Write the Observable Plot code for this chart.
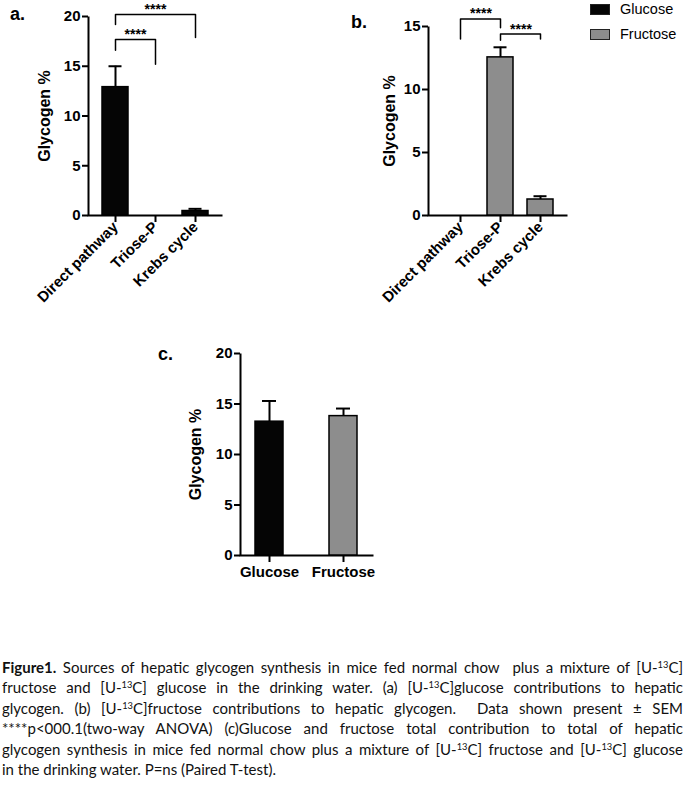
<!DOCTYPE html>
<html>
<head>
<meta charset="utf-8">
<script src="https://cdn.jsdelivr.net/npm/d3@7"></script>
<script src="https://cdn.jsdelivr.net/npm/@observablehq/plot@0.6"></script>
<style>
  body { margin: 0; background: #fff; }
  #page { position: relative; width: 685px; height: 785px; overflow: hidden; background: #fff;
          font-family: "Liberation Sans", Arial, sans-serif; color: #000; }
  .panel { position: absolute; }
  .panel svg { overflow: visible; }
  .plabel { position: absolute; font-weight: bold; font-size: 18px; line-height: 1; }
  .sw { position: absolute; width: 20px; height: 11px; box-sizing: border-box; border: 1px solid #222; }
  .lg { position: absolute; font-size: 14.5px; line-height: 1; }
  #caption { position: absolute; left: 2px; top: 657px; width: 681px;
             font-family: Lato, "Open Sans", sans-serif;
             font-size: 15px; line-height: 20.4px; color: #111; }
  #caption .ln { text-align: justify; text-align-last: justify; white-space: nowrap; height: 20.4px; }
  #caption .ln.last { text-align-last: left; }
  #caption sup { font-size: 0.62em; line-height: 0; vertical-align: 0.5em; }
</style>
</head>
<body>
<div id="page">
  <div class="plabel" style="left:10px;top:5px;">a.</div>
  <div class="plabel" style="left:351px;top:13px;">b.</div>
  <div class="plabel" style="left:158px;top:345px;">c.</div>
  <div id="pa" class="panel" style="left:0px;top:0px;"></div>
  <div id="pb" class="panel" style="left:330px;top:0px;"></div>
  <div id="pc" class="panel" style="left:170px;top:310px;"></div>
  <div id="legend"></div>
  <div id="caption">
    <div class="ln"><b>Figure1.</b> Sources of hepatic glycogen synthesis in mice fed normal chow&nbsp; plus a mixture of [U-<sup>13</sup>C]</div>
    <div class="ln">fructose and [U-<sup>13</sup>C] glucose in the drinking water. (a) [U-<sup>13</sup>C]glucose contributions to hepatic</div>
    <div class="ln">glycogen. (b) [U-<sup>13</sup>C]fructose contributions to hepatic glycogen.&nbsp; Data shown present ± SEM</div>
    <div class="ln">****p&lt;000.1(two-way ANOVA) (c)Glucose and fructose total contribution to total of hepatic</div>
    <div class="ln">glycogen synthesis in mice fed normal chow plus a mixture of [U-<sup>13</sup>C] fructose and [U-<sup>13</sup>C] glucose</div>
    <div class="ln last">in the drinking water. P=ns (Paired T-test).</div>
  </div>
</div>
<script>
// ---------- data ----------
const pathways = ["Direct pathway", "Triose-P", "Krebs cycle"];
const glucoseMean = [12.9, 0, 0.45];
const glucoseSem = [2.1, 0, 0.22];
const fructoseMean = [0, 12.55, 1.27];
const fructoseSem = [0, 0.8, 0.26];

const sugars = ["Glucose", "Fructose"];
const totalMean = [13.25, 13.8];
const totalSem = [2.05, 0.75];

const ticksA = [0, 5, 10, 15, 20];
const ticksB = [0, 5, 10, 15];
const ticksC = [0, 5, 10, 15, 20];

// significance brackets (values in Glycogen % units)
const bracketFromA = ["Direct pathway", "Direct pathway"];
const bracketToA = ["Triose-P", "Krebs cycle"];
const bracketYA = [17.7, 20.2];
const bracketFromEndA = [16.6, 19.2];
const bracketToEndA = [15.2, 17.9];
const bracketTextA = ["****", "****"];

const bracketFromB = ["Direct pathway", "Triose-P"];
const bracketToB = ["Triose-P", "Krebs cycle"];
const bracketYB = [15.6, 14.4];
const bracketFromEndB = [14.0, 13.9];
const bracketToEndB = [14.9, 14.0];
const bracketTextB = ["****", "****"];

const legendLabels = ["Glucose", "Fructose"];
const colors = {Glucose: "#050505", Fructose: "#8d8d8d"};

// ---------- drawing ----------
function panel(o) {
  const rows = o.cats.map((c, i) => ({cat: c, mean: o.means[i], sem: o.sems[i], fill: o.fills[i]}));
  const W = o.width - o.mL - o.mR, H = o.height - o.mT - o.mB;
  const xs = Plot.scale({x: {type: "band", domain: o.cats, range: [o.mL, o.width - o.mR],
    paddingInner: o.pInner, paddingOuter: o.pOuter, align: o.align}});
  const marks = [
    Plot.frame({stroke: "#000", strokeWidth: 2, strokeDasharray: `0 ${W + H} ${W + H}`}),
    Plot.barY(rows, {x: "cat", y: "mean", fill: "fill", stroke: "#000", strokeWidth: 1.5}),
    Plot.ruleX(rows.filter(d => d.sem > 0), {x: "cat", y1: "mean", y2: d => d.mean + d.sem, stroke: "#000", strokeWidth: 2}),
    Plot.tickY(rows.filter(d => d.sem > 0), {x: "cat", y: d => d.mean + d.sem, stroke: "#000", strokeWidth: 2,
      insetLeft: o.capInset, insetRight: o.capInset}),
    Plot.axisY({ticks: o.ticks, tickSize: 6, tickPadding: 2, strokeWidth: 2, label: null, tickFormat: d => d}),
    Plot.axisX({tickSize: 7, tickPadding: o.tickRotate ? 2 : 4, tickRotate: o.tickRotate, strokeWidth: 2, label: null}),
    Plot.text(["Glycogen %"], {text: d => d, frameAnchor: "left", textAnchor: "middle", lineAnchor: "middle",
      rotate: -90, dx: o.labelDx, fontSize: 16, fontWeight: "bold"})
  ];
  if (o.bFrom) {
    const pts = [];
    o.bFrom.forEach((f, i) => {
      pts.push({id: i, x: f, y: o.bFromEnd[i]}, {id: i, x: f, y: o.bY[i]},
               {id: i, x: o.bTo[i], y: o.bY[i]}, {id: i, x: o.bTo[i], y: o.bToEnd[i]});
    });
    marks.push(Plot.line(pts, {x: "x", y: "y", z: "id", stroke: "#000", strokeWidth: 1.5, curve: "linear"}));
    o.bFrom.forEach((f, i) => {
      const dx = (xs.apply(o.bTo[i]) - xs.apply(f)) / 2;
      marks.push(Plot.text([o.bText[i]], {x: () => f, y: () => o.bY[i], text: d => d, dx, dy: -5,
        fontSize: 14, fontWeight: "bold"}));
    });
  }
  return Plot.plot({
    width: o.width, height: o.height,
    marginLeft: o.mL, marginRight: o.mR, marginTop: o.mT, marginBottom: o.mB,
    style: {fontFamily: '"Liberation Sans", Arial, sans-serif', fontSize: "15px", fontWeight: "bold", color: "#000", background: "transparent", overflow: "visible"},
    x: {type: "band", domain: o.cats, paddingInner: o.pInner, paddingOuter: o.pOuter, align: o.align, label: null},
    y: {domain: [0, o.yMax], label: null},
    color: {type: "identity"},
    marks
  });
}

document.getElementById("pa").appendChild(panel({
  cats: pathways, means: glucoseMean, sems: glucoseSem, fills: pathways.map(() => colors.Glucose),
  yMax: 20, ticks: ticksA, width: 240, height: 300, mL: 88, mR: 18, mT: 16, mB: 85,
  pInner: 0.35, pOuter: 0.35, align: 0.5, capInset: 6.5, tickRotate: -45, labelDx: -44,
  bFrom: bracketFromA, bTo: bracketToA, bY: bracketYA, bFromEnd: bracketFromEndA, bToEnd: bracketToEndA, bText: bracketTextA
}));

document.getElementById("pb").appendChild(panel({
  cats: pathways, means: fructoseMean, sems: fructoseSem, fills: pathways.map(() => colors.Fructose),
  yMax: 15, ticks: ticksB, width: 240, height: 310, mL: 98, mR: 3, mT: 26, mB: 95,
  pInner: 0.34, pOuter: 0.37, align: 0.59, capInset: 6.5, tickRotate: -45, labelDx: -39,
  bFrom: bracketFromB, bTo: bracketToB, bY: bracketYB, bFromEnd: bracketFromEndB, bToEnd: bracketToEndB, bText: bracketTextB
}));

document.getElementById("pc").appendChild(panel({
  cats: sugars, means: totalMean, sems: totalSem, fills: sugars.map(s => colors[s]),
  yMax: 20, ticks: ticksC, width: 240, height: 280, mL: 70, mR: 37, mT: 43, mB: 35,
  pInner: 0.617, pOuter: 0.2, align: 0.5, capInset: 7, tickRotate: 0, labelDx: -45
}));

// legend
const legend = document.getElementById("legend");
legendLabels.forEach((name, i) => {
  const sw = document.createElement("div");
  sw.className = "sw";
  sw.style.left = "590px";
  sw.style.top = (4 + i * 24.5) + "px";
  sw.style.background = colors[name];
  legend.appendChild(sw);
  const t = document.createElement("div");
  t.className = "lg";
  t.style.left = "620px";
  t.style.top = (2 + i * 24.5) + "px";
  t.textContent = name;
  legend.appendChild(t);
});
</script>
</body>
</html>
